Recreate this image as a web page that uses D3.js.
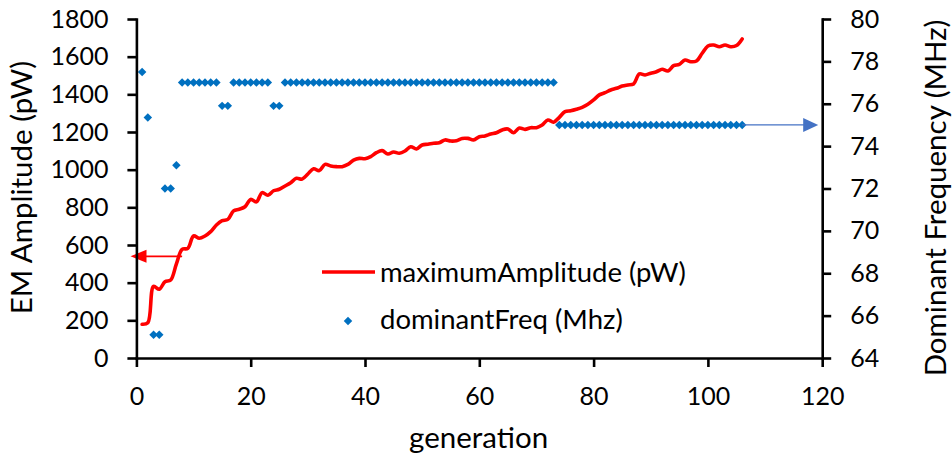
<!DOCTYPE html>
<html>
<head>
<meta charset="utf-8">
<script src="https://cdn.jsdelivr.net/npm/d3@7"></script>
<style>
  html, body { margin: 0; padding: 0; background: #ffffff; }
  svg { display: block; font-family: Lato, "Open Sans", sans-serif; }
</style>
</head>
<body>
<svg id="chart" width="952" height="459"></svg>
<script>
// ---- data ----
const generations = d3.range(1, 107);

const maximumAmplitude = [
  179, 187, 380, 365, 405, 414, 500, 577, 582, 648,
  636, 648, 671, 706, 729, 736, 781, 790, 803, 842,
  829, 878, 864, 888, 896, 913, 931, 954, 950, 977,
  1005, 995, 1028, 1020, 1016, 1016, 1028, 1051, 1060, 1058,
  1069, 1090, 1101, 1083, 1094, 1087, 1099, 1122, 1110, 1131,
  1135, 1140, 1143, 1158, 1152, 1154, 1166, 1166, 1158, 1175,
  1179, 1189, 1196, 1211, 1216, 1196, 1221, 1214, 1223, 1223,
  1237, 1264, 1252, 1278, 1308, 1313, 1321, 1331, 1347, 1370,
  1397, 1409, 1423, 1432, 1444, 1450, 1455, 1508, 1503, 1512,
  1520, 1533, 1524, 1552, 1559, 1582, 1573, 1577, 1618, 1657,
  1662, 1653, 1662, 1653, 1659, 1694
];

const dominantFreq = [
  77.5, 75.35, 65.1, 65.1, 72.0, 72.0, 73.1, 77, 77, 77,
  77, 77, 77, 77, 75.9, 75.9, 77, 77, 77, 77,
  77, 77, 77, 75.9, 75.9, 77, 77, 77, 77, 77,
  77, 77, 77, 77, 77, 77, 77, 77, 77, 77,
  77, 77, 77, 77, 77, 77, 77, 77, 77, 77,
  77, 77, 77, 77, 77, 77, 77, 77, 77, 77,
  77, 77, 77, 77, 77, 77, 77, 77, 77, 77,
  77, 77, 77, 75, 75, 75, 75, 75, 75, 75,
  75, 75, 75, 75, 75, 75, 75, 75, 75, 75,
  75, 75, 75, 75, 75, 75, 75, 75, 75, 75,
  75, 75, 75, 75, 75, 75
];

const xTicks = [0, 20, 40, 60, 80, 100, 120];
const ampTicks = [0, 200, 400, 600, 800, 1000, 1200, 1400, 1600, 1800];
const freqTicks = [64, 66, 68, 70, 72, 74, 76, 78, 80];

// annotation arrows pointing each series to its own axis: [generation, value]
const ampArrow = [[8, 540], [-1.03, 540]];
const freqArrow = [[106, 75], [119.3, 75]];

// ---- scales ----
const W = 952, H = 459;
const plot = { left: 136.4, right: 822.2, top: 19, bottom: 358 };

const x = d3.scaleLinear().domain([0, 120]).range([plot.left, plot.right]);
const yAmp = d3.scaleLinear().domain([0, 1800]).range([plot.bottom, plot.top]);
const yFreq = d3.scaleLinear().domain([64, 80]).range([plot.bottom, plot.top]);

const svg = d3.select("#chart");
svg.append("rect").attr("width", W).attr("height", H).attr("fill", "#ffffff");

const RED = "#ff0000";
const BLUE = "#0070c0";
const ARROW_BLUE = "#4472c4";

// square diamond marker
const diamond = {
  draw(ctx, size) {
    const r = Math.sqrt(size / 2);
    ctx.moveTo(0, -r); ctx.lineTo(r, 0); ctx.lineTo(0, r); ctx.lineTo(-r, 0); ctx.closePath();
  }
};
const markerPath = d3.symbol().type(diamond).size(36)();

// ---- amplitude line ----
const line = d3.line()
  .x((d, i) => x(generations[i]))
  .y(d => yAmp(d))
  .curve(d3.curveCatmullRom.alpha(0.5));

svg.append("path")
  .datum(maximumAmplitude)
  .attr("d", line)
  .attr("fill", "none")
  .attr("stroke", RED)
  .attr("stroke-width", 3.6)
  .attr("stroke-linejoin", "round")
  .attr("stroke-linecap", "round");

// ---- frequency markers ----
svg.append("g").selectAll("path")
  .data(dominantFreq)
  .join("path")
  .attr("d", markerPath)
  .attr("transform", (d, i) => `translate(${x(generations[i])},${yFreq(d)})`)
  .attr("fill", BLUE);

// ---- arrows ----
function arrow(pts, yScale, color, width, headLen, headHalf) {
  const [x0, y0] = [x(pts[0][0]), yScale(pts[0][1])];
  const [x1, y1] = [x(pts[1][0]), yScale(pts[1][1])];
  const dir = Math.sign(x1 - x0);
  svg.append("line")
    .attr("x1", x0).attr("y1", y0)
    .attr("x2", x1 - dir * headLen * 0.8).attr("y2", y1)
    .attr("stroke", color).attr("stroke-width", width);
  svg.append("path")
    .attr("d", `M${x1},${y1}L${x1 - dir * headLen},${y1 - headHalf}L${x1 - dir * headLen},${y1 + headHalf}Z`)
    .attr("fill", color);
}
arrow(ampArrow, yAmp, RED, 1.8, 16, 6.5);
arrow(freqArrow, yFreq, ARROW_BLUE, 1.3, 15, 7);

// ---- axes ----
function styleAxis(g) {
  g.select(".domain").attr("stroke", "#000").attr("stroke-width", 2.6).attr("stroke-linecap", "square");
  g.selectAll(".tick line").attr("stroke", "#000").attr("stroke-width", 2.6);
  g.selectAll(".tick text").attr("fill", "#000").attr("font-size", 25);
  g.attr("font-family", null);
}

const fmt = d3.format("d");

svg.append("g")
  .attr("transform", `translate(0,${plot.bottom})`)
  .call(d3.axisBottom(x).tickValues(xTicks).tickFormat(fmt).tickSize(9).tickSizeOuter(0).tickPadding(20))
  .call(styleAxis);

svg.append("g")
  .attr("transform", `translate(${plot.left},0)`)
  .call(d3.axisLeft(yAmp).tickValues(ampTicks).tickFormat(fmt).tickSize(9).tickSizeOuter(0).tickPadding(19))
  .call(styleAxis);

svg.append("g")
  .attr("transform", `translate(${plot.right},0)`)
  .call(d3.axisRight(yFreq).tickValues(freqTicks).tickFormat(fmt).tickSize(9).tickSizeOuter(0).tickPadding(19))
  .call(styleAxis);

// ---- axis titles ----
svg.append("text")
  .attr("x", 478.6).attr("y", 448)
  .attr("text-anchor", "middle")
  .attr("font-size", 29.5)
  .text("generation");

svg.append("text")
  .attr("transform", "translate(31.5,187.5) rotate(-90)")
  .attr("text-anchor", "middle")
  .attr("font-size", 29.5)
  .text("EM Amplitude (pW)");

svg.append("text")
  .attr("transform", "translate(946,198) rotate(-90)")
  .attr("text-anchor", "middle")
  .attr("font-size", 29.5)
  .text("Dominant Frequency (MHz)");

// ---- legend ----
const legend = svg.append("g");
legend.append("line")
  .attr("x1", 322).attr("x2", 375).attr("y1", 272).attr("y2", 272)
  .attr("stroke", RED).attr("stroke-width", 3.6);
legend.append("text")
  .attr("x", 380).attr("y", 281.5)
  .attr("font-size", 27.5)
  .text("maximumAmplitude (pW)");
legend.append("path")
  .attr("d", markerPath)
  .attr("transform", "translate(348,321)")
  .attr("fill", BLUE);
legend.append("text")
  .attr("x", 380).attr("y", 328.5)
  .attr("font-size", 27.5)
  .text("dominantFreq (Mhz)");
</script>
</body>
</html>
